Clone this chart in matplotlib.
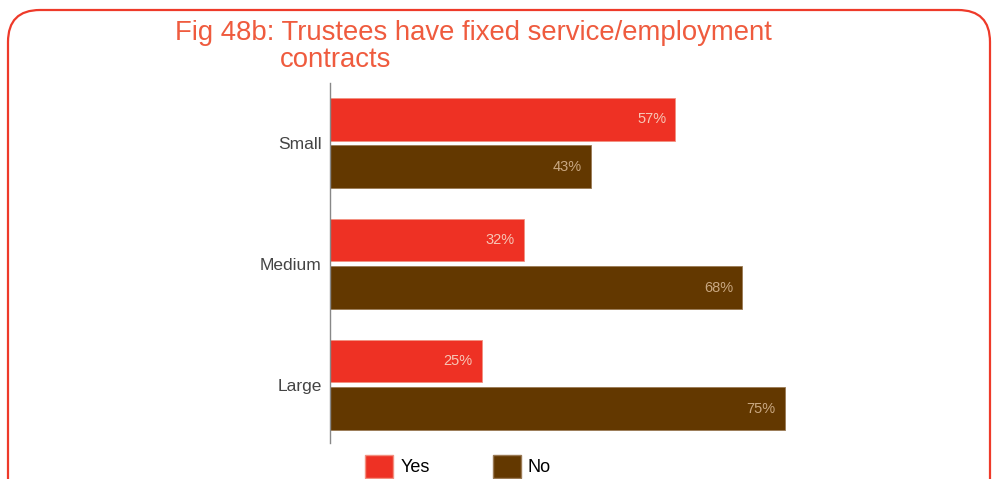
import matplotlib.pyplot as plt
from matplotlib.patches import FancyBboxPatch, Patch
import numpy as np

# data
sizes = ['Small', 'Medium', 'Large']
yes = [57, 32, 25]
no = [43, 68, 75]

red = '#EE3124'
brown = '#633800'

plt.rcParams['font.family'] = ['Liberation Sans', 'DejaVu Sans']

fig = plt.figure(figsize=(9.98, 4.79), dpi=100)
W, H = 998, 479

# rounded frame round the whole figure
frame = FancyBboxPatch((0.08, -0.5), 9.82, 4.69 + 0.5,
                       boxstyle='round,pad=0,rounding_size=0.32',
                       transform=fig.dpi_scale_trans, fill=False,
                       edgecolor='#EE3A2A', linewidth=1.6)
fig.patches.append(frame)

fig.text(175 / W, 1 - 40 / H, 'Fig 48b: Trustees have fixed service/employment',
         color='#EF5B3E', fontsize=19.8, va='baseline', ha='left')
fig.text(280 / W, 1 - 67 / H, 'contracts',
         color='#EF5B3E', fontsize=19.8, va='baseline', ha='left')

# axes placed in pixel terms
ax = fig.add_axes([330 / W, 1 - 443 / H, 606 / W, 360 / H])

y = np.arange(len(sizes))
h = 0.355
off = 0.198
ax.barh(y - off, yes, height=h, color=red, edgecolor='#F29080', linewidth=0.6)
ax.barh(y + off, no, height=h, color=brown, edgecolor='#9A7A55', linewidth=0.6)

for i in range(len(sizes)):
    ax.text(yes[i] - 1.5, y[i] - off, '%d%%' % yes[i], ha='right', va='center',
            color='#F7C6B6', fontsize=10.5)
    ax.text(no[i] - 1.5, y[i] + off, '%d%%' % no[i], ha='right', va='center',
            color='#C9A882', fontsize=10.5)

ax.set_xlim(0, 100)
ax.set_ylim(2.48, -0.496)
ax.set_yticks(y)
ax.set_yticklabels(sizes, fontsize=12.5, color='#444444')
ax.tick_params(axis='y', length=0, pad=6)
ax.set_xticks([])
for s in ['top', 'right', 'bottom']:
    ax.spines[s].set_visible(False)
ax.spines['left'].set_color('#888888')
ax.spines['left'].set_linewidth(1.0)

handles = [Patch(facecolor=red, edgecolor='#F29080', label='Yes'),
           Patch(facecolor=brown, edgecolor='#9A7A55', label='No')]
fig.legend(handles=handles, loc='upper left', bbox_to_anchor=(365 / W, 1 - 455 / H),
           ncol=2, frameon=False, fontsize=13, handlelength=1.55, handleheight=1.55,
           handletextpad=0.4, columnspacing=3.5, borderaxespad=0, borderpad=0)

fig.savefig('out.png', dpi=100)
